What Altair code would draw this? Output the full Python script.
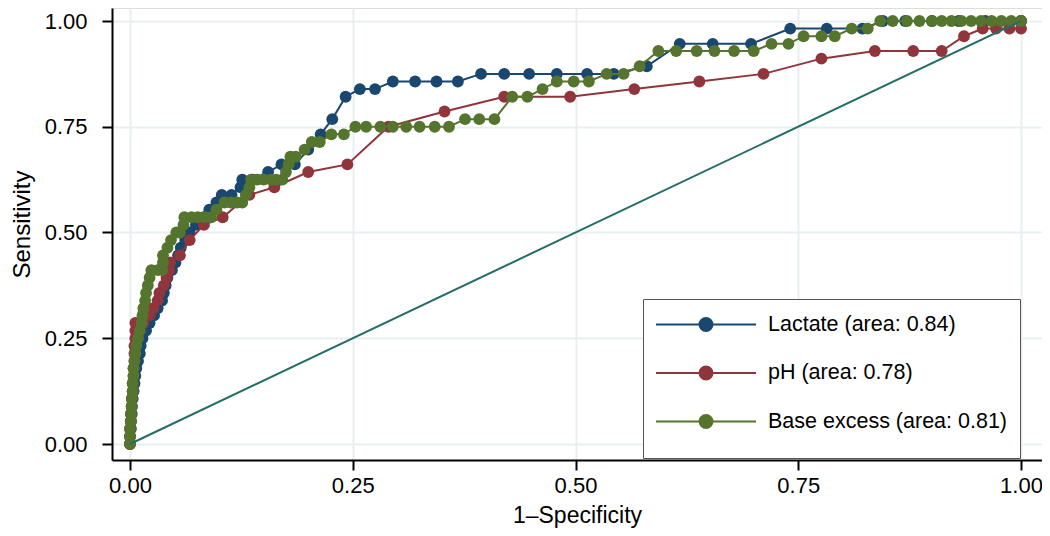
import altair as alt
import pandas as pd

# ---------------- data ----------------
series_names = ["Lactate (area: 0.84)", "pH (area: 0.78)", "Base excess (area: 0.81)"]
series_colors = ["#1a476f", "#90353b", "#55752f"]

lactate_fpr = [0, 0, 0.001, 0.001, 0.002, 0.002, 0.003, 0.004, 0.005, 0.006, 0.007, 0.009,
               0.011, 0.012, 0.014, 0.018, 0.022, 0.027, 0.031, 0.036, 0.038, 0.040, 0.042,
               0.047, 0.051, 0.054, 0.057, 0.062, 0.067, 0.074, 0.083, 0.089, 0.097, 0.103,
               0.114, 0.124, 0.126, 0.137, 0.155, 0.170, 0.185, 0.200, 0.214, 0.227, 0.242,
               0.258, 0.275, 0.295, 0.320, 0.344, 0.368, 0.394, 0.420, 0.448, 0.479, 0.513,
               0.543, 0.580, 0.617, 0.654, 0.697, 0.741, 0.782, 0.822, 0.845, 0.870, 0.900,
               0.930, 0.960, 1.0]
lactate_sens = [0, 0.018, 0.036, 0.054, 0.071, 0.089, 0.107, 0.125, 0.143, 0.161, 0.179, 0.196,
                0.214, 0.232, 0.250, 0.268, 0.286, 0.304, 0.321, 0.339, 0.357, 0.375, 0.393,
                0.411, 0.429, 0.446, 0.464, 0.482, 0.500, 0.518, 0.536, 0.554, 0.571, 0.589,
                0.589, 0.607, 0.625, 0.625, 0.643, 0.661, 0.661, 0.696, 0.732, 0.768, 0.821,
                0.839, 0.839, 0.857, 0.857, 0.857, 0.857, 0.875, 0.875, 0.875, 0.875, 0.875,
                0.875, 0.893, 0.946, 0.946, 0.946, 0.982, 0.982, 0.982, 1.0, 1.0, 1.0,
                1.0, 1.0, 1.0]

ph_fpr = [0, 0, 0, 0.001, 0.001, 0.002, 0.002, 0.003, 0.003, 0.004, 0.004, 0.005, 0.005,
          0.005, 0.006, 0.006, 0.006, 0.015, 0.022, 0.026, 0.031, 0.033, 0.038, 0.041, 0.044,
          0.045, 0.056, 0.067, 0.083, 0.104, 0.134, 0.162, 0.200, 0.244, 0.290, 0.353, 0.420,
          0.494, 0.566, 0.639, 0.711, 0.776, 0.836, 0.879, 0.911, 0.936, 0.957, 0.972, 0.987,
          1.0, 1.0]
ph_sens = [0, 0.018, 0.036, 0.054, 0.071, 0.089, 0.107, 0.125, 0.143, 0.161, 0.179, 0.196,
           0.214, 0.232, 0.250, 0.268, 0.286, 0.286, 0.304, 0.321, 0.339, 0.357, 0.375, 0.393,
           0.411, 0.429, 0.446, 0.482, 0.518, 0.536, 0.589, 0.607, 0.643, 0.661, 0.750, 0.786,
           0.821, 0.821, 0.839, 0.857, 0.875, 0.911, 0.929, 0.929, 0.929, 0.964, 0.982, 0.982,
           0.982, 0.982, 1.0]

be_fpr = [0, 0, 0, 0.001, 0.001, 0.002, 0.002, 0.003, 0.003, 0.004, 0.004, 0.005, 0.006,
          0.007, 0.009, 0.011, 0.013, 0.014, 0.015, 0.017, 0.018, 0.020, 0.022, 0.024, 0.031,
          0.036, 0.037, 0.037, 0.042, 0.046, 0.052, 0.056, 0.060, 0.061, 0.069, 0.076, 0.084,
          0.091, 0.097, 0.106, 0.113, 0.120, 0.126, 0.130, 0.134, 0.136, 0.143, 0.150, 0.158,
          0.164, 0.171, 0.175, 0.178, 0.180, 0.186, 0.196, 0.204, 0.213, 0.226, 0.240, 0.253,
          0.265, 0.281, 0.295, 0.310, 0.325, 0.342, 0.358, 0.376, 0.392, 0.409, 0.429, 0.446,
          0.463, 0.479, 0.498, 0.515, 0.535, 0.554, 0.572, 0.593, 0.613, 0.636, 0.656, 0.678,
          0.700, 0.720, 0.739, 0.756, 0.776, 0.791, 0.810, 0.828, 0.842, 0.856, 0.872, 0.886,
          0.900, 0.911, 0.922, 0.933, 0.944, 0.955, 0.967, 0.978, 0.989, 1.0]
be_sens = [0, 0.018, 0.036, 0.054, 0.071, 0.089, 0.107, 0.125, 0.143, 0.161, 0.179, 0.196,
           0.214, 0.232, 0.250, 0.268, 0.286, 0.304, 0.321, 0.339, 0.357, 0.375, 0.393, 0.411,
           0.411, 0.411, 0.429, 0.446, 0.464, 0.482, 0.500, 0.500, 0.518, 0.536, 0.536, 0.536,
           0.536, 0.536, 0.554, 0.571, 0.571, 0.571, 0.571, 0.589, 0.607, 0.625, 0.625, 0.625,
           0.625, 0.625, 0.625, 0.643, 0.661, 0.679, 0.679, 0.696, 0.714, 0.714, 0.732, 0.732,
           0.750, 0.750, 0.750, 0.750, 0.750, 0.750, 0.750, 0.750, 0.768, 0.768, 0.768, 0.821,
           0.821, 0.839, 0.857, 0.857, 0.857, 0.875, 0.875, 0.893, 0.929, 0.929, 0.929, 0.929,
           0.929, 0.929, 0.946, 0.946, 0.964, 0.964, 0.964, 0.982, 0.982, 1.0, 1.0, 1.0, 1.0,
           1.0, 1.0, 1.0, 1.0, 1.0, 1.0, 1.0, 1.0, 1.0, 1.0]

ref_fpr = [0, 1]
ref_sens = [0, 1]

tick_values = [0, 0.25, 0.5, 0.75, 1.0]

# ---------------- build tables ----------------
rows = []
for name, fx, sy in zip(series_names, [lactate_fpr, ph_fpr, be_fpr],
                        [lactate_sens, ph_sens, be_sens]):
    for i, (a, b) in enumerate(zip(fx, sy)):
        rows.append({"series": name, "fpr": a, "sens": b, "idx": i})
df = pd.DataFrame(rows)
ref_df = pd.DataFrame({"fpr": ref_fpr, "sens": ref_sens})

FONT = "Liberation Sans"
grid_col = "#e7eff2"

PLOT_W, PLOT_H = 930, 452
x_scale = alt.Scale(domain=[-18 / 891, 1 + 21 / 891], nice=False, zero=False)
y_scale = alt.Scale(domain=[-16 / 423, 1 + 13 / 423], nice=False, zero=False)

x_axis = alt.Axis(values=tick_values, format=".2f", title="1–Specificity",
                  labelFontSize=22, titleFontSize=23, titleFontWeight="normal",
                  labelFont=FONT, titleFont=FONT, labelColor="black", titleColor="black",
                  tickSize=10, tickWidth=2, tickColor="black", domainColor="black",
                  domainWidth=2, gridColor=grid_col, gridWidth=2, labelPadding=5,
                  titleY=44.5, titleBaseline="top", labelFlush=False)
y_axis = alt.Axis(values=tick_values, format=".2f", title="Sensitivity",
                  labelFontSize=22, titleFontSize=24, titleFontWeight="normal",
                  labelFont=FONT, titleFont=FONT, labelColor="black", titleColor="black",
                  tickSize=10, tickWidth=2, tickColor="black", domainColor="black",
                  domainWidth=2, gridColor=grid_col, gridWidth=2, labelPadding=15,
                  titleX=-102, titleY=216, titleAngle=270, titleBaseline="top",
                  titleAlign="center", labelFlush=False)

# legend key: a 100px line with a dot, drawn as a custom symbol path
# (unit = 12.5 px for symbolSize 625; line spans -1..7 units, dot centred at 3)
legend_symbol = "M-1,0H7M3.52,0A0.52,0.52,0,1,1,2.48,0A0.52,0.52,0,1,1,3.52,0Z"
color_enc = alt.Color(
    "series:N",
    scale=alt.Scale(domain=series_names, range=series_colors),
    legend=alt.Legend(
        title=" ", titleOrient="bottom", titleFontSize=12, titlePadding=3,
        orient="none", legendX=531, legendY=291,
        symbolType=legend_symbol, symbolSize=625, symbolStrokeWidth=2,
        labelFont=FONT, labelFontSize=21.5, labelColor="black", labelOffset=86,
        labelLimit=400, rowPadding=24.5, padding=12, strokeColor="#555555",
        fillColor="white",
    ),
)

layers = []
for name in series_names:
    base = alt.Chart(df).transform_filter(alt.datum.series == name).encode(
        x=alt.X("fpr:Q", scale=x_scale, axis=x_axis),
        y=alt.Y("sens:Q", scale=y_scale, axis=y_axis),
        color=color_enc,
        order=alt.Order("idx:Q"),
    )
    layers.append(base.mark_line(strokeWidth=2))
    layers.append(base.mark_point(filled=True, size=140, opacity=1))

ref_line = alt.Chart(ref_df).mark_line(color="#256e66", strokeWidth=2).encode(
    x=alt.X("fpr:Q", scale=x_scale, axis=x_axis),
    y=alt.Y("sens:Q", scale=y_scale, axis=y_axis),
)
layers.append(ref_line)

chart = alt.layer(*layers).properties(
    width=PLOT_W, height=PLOT_H,
    autosize=alt.AutoSizeParams(type="none"),
    padding={"left": 104, "top": 0, "right": 0, "bottom": 68},
).configure_view(stroke=grid_col, strokeWidth=2).configure(font=FONT, background="white")

chart.save("out.html", embed_options={"renderer": "svg", "actions": False})
